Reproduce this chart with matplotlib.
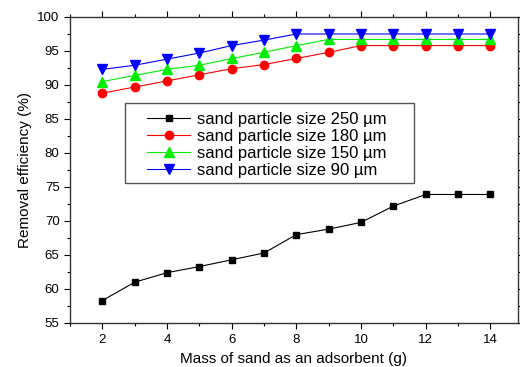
import matplotlib.pyplot as plt
from matplotlib.patches import Rectangle
from matplotlib.ticker import MultipleLocator

plt.rcParams['font.family'] = ['Liberation Sans', 'DejaVu Sans']

mass = [2, 3, 4, 5, 6, 7, 8, 9, 10, 11, 12, 13, 14]
eff_250 = [58.3, 61.0, 62.4, 63.3, 64.3, 65.3, 68.0, 68.8, 69.8, 72.2, 73.9, 73.9, 73.9]
eff_180 = [88.8, 89.7, 90.6, 91.5, 92.4, 93.0, 93.9, 94.8, 95.8, 95.8, 95.8, 95.8, 95.8]
eff_150 = [90.5, 91.4, 92.3, 92.9, 93.9, 94.8, 95.8, 96.7, 96.7, 96.7, 96.7, 96.7, 96.7]
eff_90 = [92.3, 92.9, 93.8, 94.7, 95.8, 96.6, 97.5, 97.5, 97.5, 97.5, 97.5, 97.5, 97.5]

fig = plt.figure(figsize=[5.2, 3.67], dpi=100)
ax = fig.add_axes([0.1346, 0.1199, 0.8615, 0.8338])

ax.plot(mass, eff_250, color='black', lw=0.8, marker='s', ms=5, label='sand particle size 250 µm')
ax.plot(mass, eff_180, color='red', lw=0.8, marker='o', ms=6, label='sand particle size 180 µm')
ax.plot(mass, eff_150, color='#00ee00', lw=0.8, marker='^', ms=6.5, label='sand particle size 150 µm')
ax.plot(mass, eff_90, color='blue', lw=0.8, marker='v', ms=6.5, mfc='blue', label='sand particle size 90 µm')

ax.set_xlim(1, 14.85)
ax.set_ylim(55, 100)
ax.xaxis.set_major_locator(MultipleLocator(2))
ax.xaxis.set_minor_locator(MultipleLocator(1))
ax.yaxis.set_major_locator(MultipleLocator(5))
ax.yaxis.set_minor_locator(MultipleLocator(2.5))
ax.tick_params(which='both', top=True, right=True, labelsize=9.5, width=0.8)
ax.tick_params(which='major', length=4)
ax.tick_params(which='minor', length=2.5)
ax.tick_params(axis='x', which='major', pad=4)
for s in ax.spines.values():
    s.set_linewidth(1.0)
    s.set_color('#333333')

ax.set_xlabel('Mass of sand as an adsorbent (g)', fontsize=11)
ax.set_ylabel('Removal efficiency (%)', fontsize=11)

# legend frame drawn separately (wider padding than matplotlib's uniform borderpad)
ax.add_patch(Rectangle((0.1228, 0.4575), 0.6452, 0.2615, transform=ax.transAxes,
                       facecolor='white', edgecolor='#555555', lw=1.0, zorder=4))
leg = ax.legend(loc='upper left', bbox_to_anchor=(0.1719, 0.691), fontsize=12,
                frameon=False, handlelength=2.6, borderpad=0, labelspacing=0.12,
                handletextpad=0.4, borderaxespad=0)
leg.set_zorder(5)

plt.savefig('out.png', dpi=100)
